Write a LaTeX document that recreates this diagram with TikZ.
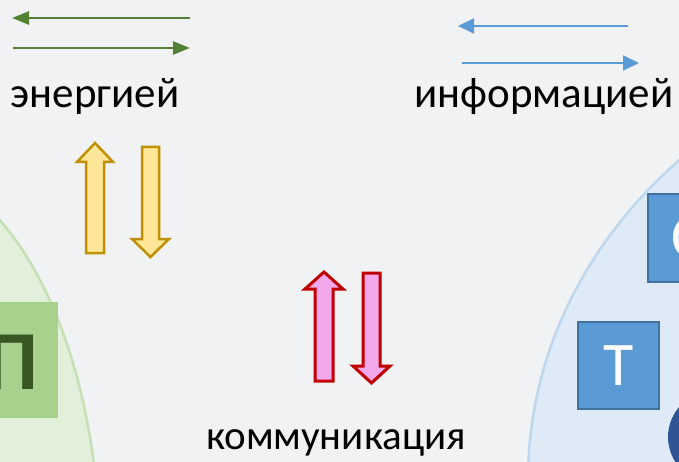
\documentclass[tikz,border=0pt]{standalone}
\usepackage{fontspec}
\setmainfont{Carlito}
\usetikzlibrary{arrows.meta}
\definecolor{bg}{HTML}{F1F2F3}
\definecolor{arrgreen}{HTML}{548235}
\definecolor{arrblue}{HTML}{5B9BD5}
\definecolor{yelfill}{HTML}{FFE699}
\definecolor{yeldraw}{HTML}{BF9000}
\definecolor{pinkfill}{HTML}{F2A8EA}
\definecolor{pinkdraw}{HTML}{C00000}
\definecolor{ellgreenfill}{HTML}{E2EFDA}
\definecolor{ellgreendraw}{HTML}{C5E0B4}
\definecolor{ellbluefill}{HTML}{DEEBF7}
\definecolor{ellbluedraw}{HTML}{BDD7EE}
\definecolor{boxgreen}{HTML}{A9D18E}
\definecolor{lettergreen}{HTML}{385723}
\definecolor{boxblue}{HTML}{5B9BD5}
\definecolor{boxbluedraw}{HTML}{41719C}
\definecolor{darkblue}{HTML}{2F5597}
\tikzset{
  greenarrow/.style={draw=arrgreen, line width=2.5pt, -{Triangle[length=17pt,width=13pt]}},
  bluearrow/.style={draw=arrblue, line width=2pt, -{Triangle[length=16pt,width=15pt]}},
  yelblock/.style={fill=yelfill, draw=yeldraw, line width=2.5pt, line join=miter},
  pinkblock/.style={fill=pinkfill, draw=pinkdraw, line width=3pt, line join=miter},
  labeltext/.style={anchor=base, inner sep=0pt, text=black},
  bluebox/.style={rectangle, fill=boxblue, draw=boxbluedraw, line width=2.5pt, text=white, inner sep=0pt, font=\fontsize{62}{70}\selectfont},
}
\begin{document}
\begin{tikzpicture}[x=1pt,y=-1pt]
\useasboundingbox (0,0) rectangle (679,462);
\clip (0,0) rectangle (679,462);
\fill[bg] (0,0) rectangle (679,462);
% ellipses
\draw[fill=ellgreenfill, draw=ellgreendraw, line width=2.5pt] (-100,560) ellipse [x radius=200pt, y radius=392pt];
\draw[fill=ellbluefill, draw=ellbluedraw, line width=2.5pt] (1038,480) ellipse [x radius=510pt, y radius=450pt];
% green arrows
\coordinate (g1s) at (190,18);
\coordinate (g1e) at (12,18);
\coordinate (g2s) at (13,48);
\coordinate (g2e) at (190,48);
\draw[greenarrow] (g1s) -- (g1e);
\draw[greenarrow] (g2s) -- (g2e);
% blue arrows
\coordinate (b1s) at (628,26);
\coordinate (b1e) at (458,26);
\coordinate (b2s) at (462,63);
\coordinate (b2e) at (639,63);
\draw[bluearrow] (b1s) -- (b1e);
\draw[bluearrow] (b2s) -- (b2e);
% labels
\node[labeltext, font=\fontsize{43}{50}\selectfont] (energ) at (95,108) {энергией};
\node[labeltext, font=\fontsize{43}{50}\selectfont] (inform) at (544,108) {информацией};
\node[labeltext, font=\fontsize{41}{48}\selectfont] (komm) at (336,449) {коммуникация};
% yellow block arrows
\draw[yelblock] (95,143) -- (113,162) -- (104,162) -- (104,253) -- (86,253) -- (86,162) -- (77,162) -- cycle;
\draw[yelblock] (150.5,257) -- (169,239) -- (159,239) -- (159,147) -- (142,147) -- (142,239) -- (132,239) -- cycle;
% pink block arrows
\draw[pinkblock] (324,272) -- (343,289) -- (333,289) -- (333,381) -- (315,381) -- (315,289) -- (305,289) -- cycle;
\draw[pinkblock] (371.5,383) -- (390,366) -- (380,366) -- (380,273) -- (363,273) -- (363,366) -- (353,366) -- cycle;
% green box
\node[rectangle, fill=boxgreen, minimum width=117, minimum height=116, inner sep=0pt] (pbox) at (-1,360) {};
\node[anchor=base, inner sep=0pt, text=lettergreen, font=\fontsize{84}{90}\selectfont\bfseries] (pletter) at (12,389) {П};
% blue boxes
\node[bluebox, minimum width=81, minimum height=88] (cbox) at (688.5,238) {С};
\node[bluebox, minimum width=81, minimum height=87] (tbox) at (618.5,365.5) {Т};
\node[circle, fill=darkblue, minimum size=92, inner sep=0pt] (circ) at (714,437) {};
\end{tikzpicture}
\end{document}
